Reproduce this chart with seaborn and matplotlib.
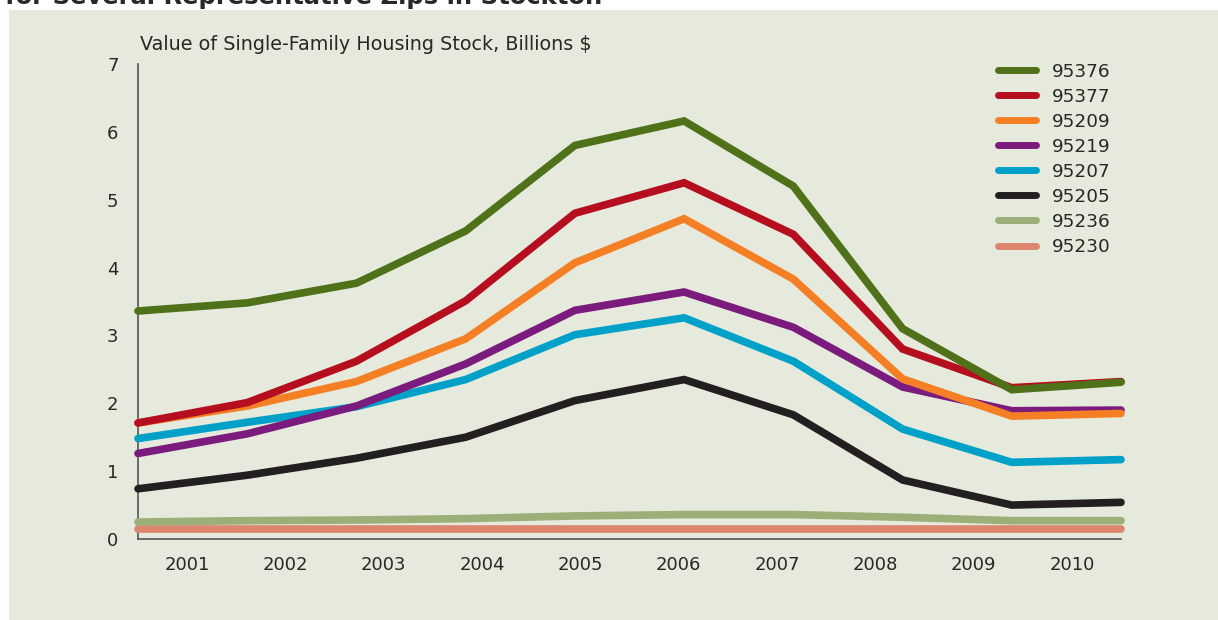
import matplotlib.pyplot as plt
import numpy as np
import pandas as pd
import seaborn as sns
from matplotlib.patches import Rectangle

years = [2001, 2002, 2003, 2004, 2005, 2006, 2007, 2008, 2009, 2010]
zips = ["95376", "95377", "95209", "95219", "95207", "95205", "95236", "95230"]

z95376 = [3.36, 3.48, 3.77, 4.54, 5.80, 6.16, 5.20, 3.10, 2.20, 2.31]
z95377 = [1.71, 2.01, 2.62, 3.51, 4.80, 5.25, 4.49, 2.80, 2.23, 2.32]
z95209 = [1.71, 1.96, 2.32, 2.95, 4.07, 4.72, 3.83, 2.36, 1.81, 1.85]
z95219 = [1.26, 1.55, 1.96, 2.58, 3.37, 3.64, 3.12, 2.24, 1.89, 1.90]
z95207 = [1.48, 1.72, 1.95, 2.35, 3.01, 3.26, 2.62, 1.62, 1.13, 1.17]
z95205 = [0.74, 0.94, 1.19, 1.50, 2.04, 2.35, 1.83, 0.87, 0.50, 0.54]
z95236 = [0.25, 0.27, 0.28, 0.30, 0.34, 0.36, 0.36, 0.32, 0.27, 0.27]
z95230 = [0.15, 0.15, 0.15, 0.15, 0.15, 0.15, 0.15, 0.15, 0.15, 0.15]

colors = {
    "95376": "#4e7119",
    "95377": "#b50e1e",
    "95209": "#f47f24",
    "95219": "#7b1b7e",
    "95207": "#00a1c8",
    "95205": "#231f20",
    "95236": "#9caf78",
    "95230": "#dc8670",
}

series = [z95376, z95377, z95209, z95219, z95207, z95205, z95236, z95230]
df = pd.DataFrame({
    "Year": years * len(zips),
    "Zip": np.repeat(zips, len(years)),
    "Value": np.concatenate(series),
})

bg = "#e6eadc"
text_col = "#2a2727"

sns.set_style("white")
plt.rcParams["font.family"] = ["DejaVu Sans"]

fig = plt.figure(figsize=(12.18, 6.2), dpi=100)
fig.patch.set_facecolor("white")
fig.patches.append(Rectangle((9 / 1218, 0), 1 - 9 / 1218, 1 - 10 / 620,
                             transform=fig.transFigure, facecolor=bg,
                             edgecolor="none", zorder=-10))
fig.text(0.004, 1 - 4 / 620, "for Several Representative Zips in Stockton",
         fontsize=17.5, fontweight="bold", color=text_col, va="baseline", ha="left")

ax = fig.add_axes([138 / 1218, 1 - 539 / 620, (1121 - 138) / 1218, (539 - 64) / 620])
ax.set_facecolor(bg)

handles = {}
for i, z in enumerate(reversed(zips)):
    sub = df[df["Zip"] == z]
    sns.lineplot(data=sub, x="Year", y="Value", color=colors[z], lw=5.5,
                 ax=ax, clip_on=False, solid_capstyle="round",
                 solid_joinstyle="miter", zorder=3 + i, label=z)
    handles[z] = ax.get_lines()[-1]

ax.set_xlim(2001, 2010)
ax.set_ylim(0, 7)
ax.set_yticks(range(0, 8))
ax.set_yticklabels([str(v) for v in range(0, 8)])
tick_pos = [years[0] + (years[-1] - years[0]) * (k + 0.5) / len(years) for k in range(len(years))]
ax.set_xticks(tick_pos)
ax.set_xticklabels([str(y) for y in years])
ax.tick_params(axis="both", length=0, labelsize=13, labelcolor=text_col)
ax.tick_params(axis="x", pad=12)
ax.tick_params(axis="y", pad=14)
ax.set_xlabel("")
ax.set_ylabel("")

for s in ["top", "right"]:
    ax.spines[s].set_visible(False)
for s in ["left", "bottom"]:
    ax.spines[s].set_color("#555555")
    ax.spines[s].set_linewidth(1.2)

fig.text(140 / 1218, 1 - 45 / 620, "Value of Single-Family Housing Stock, Billions $",
         fontsize=13.8, color=text_col, va="center", ha="left")

leg = ax.legend([handles[z] for z in zips], zips, loc="upper right",
                bbox_to_anchor=(1112 / 1218, 1 - 61 / 620), bbox_transform=fig.transFigure,
                frameon=False, fontsize=13.3, handlelength=2.05, handletextpad=0.85,
                labelspacing=0.38, labelcolor=text_col, borderpad=0.1, borderaxespad=0)
for line in leg.get_lines():
    line.set_linewidth(5.0)
    line.set_solid_capstyle("round")

fig.savefig("out.png", dpi=100, facecolor=fig.get_facecolor())
